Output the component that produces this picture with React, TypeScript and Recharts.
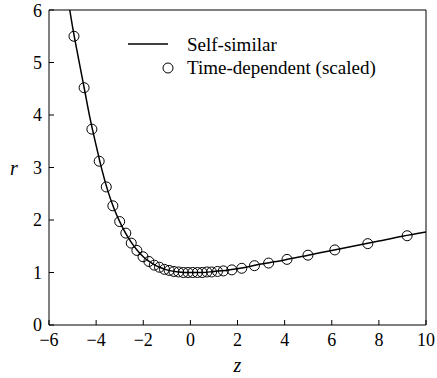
import {
  ComposedChart,
  Line,
  Scatter,
  XAxis,
  YAxis,
} from 'recharts'

// self-similar solution r(z)
const lineZ = [-5.12, -5.0, -4.75, -4.5, -4.25, -4.0, -3.75, -3.5, -3.25, -3.0, -2.75, -2.5, -2.25, -2.0, -1.75, -1.5, -1.25, -1.0, -0.5, 0, 0.5, 1, 1.5, 2, 3, 4, 5, 6, 7, 8, 9, 10]
const lineR = [6.0, 5.68, 5.08, 4.5, 3.92, 3.42, 2.95, 2.55, 2.23, 1.97, 1.75, 1.57, 1.42, 1.3, 1.21, 1.14, 1.09, 1.05, 1.01, 1.0, 1.0, 1.02, 1.04, 1.07, 1.16, 1.24, 1.33, 1.42, 1.51, 1.6, 1.69, 1.77]

// time-dependent (scaled) samples
const dotZ = [-4.94, -4.51, -4.18, -3.87, -3.57, -3.29, -3.0, -2.74, -2.51, -2.27, -2.01, -1.76, -1.53, -1.31, -1.1, -0.9, -0.7, -0.5, -0.3, -0.1, 0.1, 0.3, 0.5, 0.7, 0.9, 1.15, 1.4, 1.76, 2.18, 2.72, 3.32, 4.1, 4.99, 6.13, 7.53, 9.2]
const dotR = [5.5, 4.52, 3.73, 3.12, 2.63, 2.27, 1.97, 1.75, 1.56, 1.42, 1.3, 1.21, 1.14, 1.1, 1.06, 1.04, 1.02, 1.01, 1.0, 1.0, 1.0, 1.0, 1.0, 1.01, 1.01, 1.02, 1.03, 1.05, 1.08, 1.13, 1.18, 1.25, 1.33, 1.43, 1.55, 1.7]

const xTicks = [-6, -4, -2, 0, 2, 4, 6, 8, 10]
const yTicks = [0, 1, 2, 3, 4, 5, 6]

const lineData = lineZ.map((z, i) => ({ z, r: lineR[i] }))
const dotData = dotZ.map((z, i) => ({ z, r: dotR[i] }))

const font = 'Liberation Serif, DejaVu Serif, serif'
const tickStyle = { fontSize: 18, fill: '#000', fontFamily: font }
const minus = (v: number) => String(v).replace('-', '\u2212')
const blank = () => ''

const LegendBox = () => (
  <div
    style={{
      position: 'absolute',
      left: 125,
      top: 33,
      fontFamily: font,
      fontSize: 19,
      color: '#000',
      lineHeight: '23px',
    }}
  >
    <div style={{ display: 'flex', alignItems: 'center' }}>
      <svg width={62} height={23}>
        <line x1={3} x2={43} y1={11} y2={11} stroke="#000" strokeWidth={1.5} />
      </svg>
      <span>Self-similar</span>
    </div>
    <div style={{ display: 'flex', alignItems: 'center' }}>
      <svg width={62} height={23}>
        <circle cx={43} cy={12} r={5} fill="none" stroke="#000" />
      </svg>
      <span>Time-dependent (scaled)</span>
    </div>
  </div>
)

export default function App() {
  return (
    <div style={{ position: 'absolute', left: 0, top: 0, width: 437, height: 378, background: '#fff' }}>
      <ComposedChart
        width={437}
        height={378}
        margin={{ top: 10, right: 11, bottom: 0, left: 0 }}
      >
        <XAxis
          xAxisId="b"
          dataKey="z"
          type="number"
          domain={[-6, 10]}
          ticks={xTicks}
          tickFormatter={minus}
          tick={tickStyle}
          tickSize={-5}
          tickMargin={13}
          height={53}
          stroke="#000"
          allowDataOverflow
          label={{ value: 'z', position: 'insideBottom', offset: 6, fontSize: 20, fontStyle: 'italic', fontFamily: font, fill: '#000' }}
        />
        <XAxis
          xAxisId="t"
          dataKey="z"
          type="number"
          orientation="top"
          mirror
          domain={[-6, 10]}
          ticks={xTicks}
          tickFormatter={blank}
          tickSize={5}
          stroke="#000"
        />
        <YAxis
          yAxisId="l"
          dataKey="r"
          type="number"
          domain={[0, 6]}
          ticks={yTicks}
          tick={tickStyle}
          tickSize={-5}
          tickMargin={12}
          width={49}
          stroke="#000"
          allowDataOverflow
          label={{ value: 'r', position: 'insideLeft', offset: 10, fontSize: 20, fontStyle: 'italic', fontFamily: font, fill: '#000' }}
        />
        <YAxis
          yAxisId="rt"
          dataKey="r"
          type="number"
          orientation="right"
          mirror
          domain={[0, 6]}
          ticks={yTicks}
          tickFormatter={blank}
          tickSize={5}
          stroke="#000"
        />
        <Line
          xAxisId="b"
          yAxisId="l"
          data={lineData}
          dataKey="r"
          type="monotone"
          stroke="#000"
          strokeWidth={1.5}
          dot={false}
          isAnimationActive={false}
        />
        <Scatter
          xAxisId="b"
          yAxisId="l"
          data={dotData}
          dataKey="r"
          shape={(p: any) => (
            <circle cx={p.cx} cy={p.cy} r={5} fill="none" stroke="#000" strokeWidth={1} />
          )}
          isAnimationActive={false}
        />
      </ComposedChart>
      <LegendBox />
    </div>
  )
}
